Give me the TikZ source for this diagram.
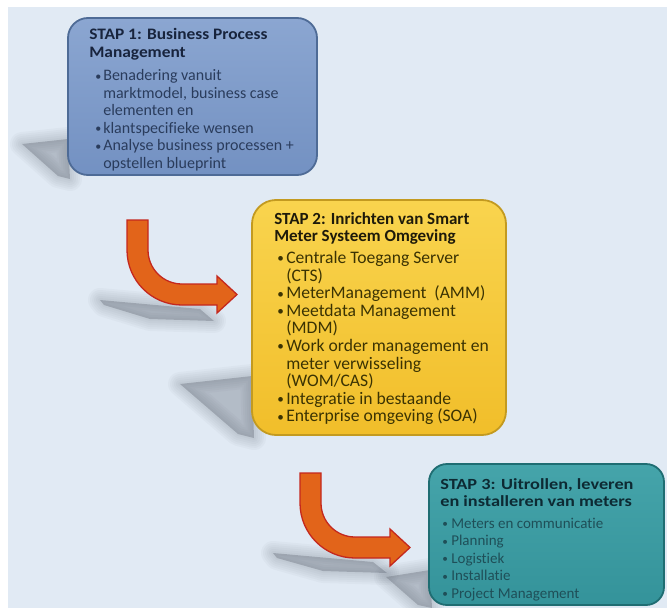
\documentclass[tikz,border=0pt]{standalone}
\usepackage{fontspec}
\setmainfont{Carlito}[Ligatures=NoCommon]
\definecolor{bgc}{HTML}{E1EAF4}
\definecolor{shc}{HTML}{4A5260}
\definecolor{b1top}{HTML}{8BA6D1}
\definecolor{b1bot}{HTML}{7391C2}
\definecolor{b1line}{HTML}{4E6B96}
\definecolor{b2top}{HTML}{F9D44E}
\definecolor{b2bot}{HTML}{F1BE2A}
\definecolor{b2line}{HTML}{C39A20}
\definecolor{b3top}{HTML}{45A4AA}
\definecolor{b3bot}{HTML}{34939A}
\definecolor{b3line}{HTML}{1F6D72}
\definecolor{t1a}{HTML}{18243D}
\definecolor{t1b}{HTML}{2A3C5C}
\definecolor{t2a}{HTML}{1E1A0A}
\definecolor{t2b}{HTML}{3B3303}
\definecolor{t3a}{HTML}{0D2A33}
\definecolor{t3b}{HTML}{1F4F58}
\definecolor{arrfill}{HTML}{E2641A}
\definecolor{arrline}{HTML}{C4281E}
\newcommand{\softshadow}[1]{%
  \foreach \w in {24,20,16,12,8,4} {\path[draw=shc, line width=\w, line join=round, line cap=round, opacity=0.035] #1 -- cycle;}
  \fill[shc, opacity=0.30] #1 -- cycle;}
\newcommand{\bul}[2]{\makebox[#1][l]{\hspace{#2}\raisebox{0.5pt}{\scalebox{0.75}{•}}}}
\newcommand{\ind}[1]{\makebox[#1]{}}
\begin{document}
\begin{tikzpicture}[x=1pt,y=-1pt,
  stepbox/.style={rectangle, rounded corners=20pt, line width=1.8pt, inner sep=0pt},
  boxone/.style={stepbox, draw=b1line, top color=b1top, bottom color=b1bot, minimum width=249pt, minimum height=157pt},
  boxtwo/.style={stepbox, draw=b2line, top color=b2top, bottom color=b2bot, minimum width=254pt, minimum height=235pt, rounded corners=24pt},
  boxthree/.style={stepbox, draw=b3line, top color=b3top, bottom color=b3bot, minimum width=235pt, minimum height=141pt, rounded corners=18pt},
  txt/.style={inner sep=0pt, anchor=north west, align=left},
  bigarrow/.style={fill=arrfill, draw=arrline, line width=1.3pt, line join=miter}
]
\useasboundingbox (0,0) rectangle (667,608);
\fill[white] (0,0) rectangle (667,608);
\fill[bgc] (8,7) rectangle (667,608);

% shadows
\softshadow{(22,144) -- (68,139) -- (70,179) -- (58,176)}
\softshadow{(180,384) -- (252,376) -- (254,438) -- (238,434)}
\softshadow{(386,577) -- (430,570) -- (432,608) -- (418,605)}
\softshadow{(100,300) -- (200,309) -- (214,321) -- (150,319) -- (104,305)}
\softshadow{(273,553) -- (373,562) -- (387,573) -- (323,571) -- (277,558)}

% boxes
\node[boxone] (s1) at (192.5,96.5) {};
\node[boxtwo] (s2) at (379,317.5) {};
\node[boxthree] (s3) at (546.5,534.5) {};

% arrows
\foreach \ox/\oy/\nm in {127/220/a1, 300/473/a2} {
  \begin{scope}[shift={(\ox,\oy)}]
    \coordinate (\nm) at (0,0);
    \draw[bigarrow] (0,0) -- (21,0) -- (21,30) .. controls (21,48.8) and (36.2,64) .. (55,64)
      -- (90,64) -- (90,56) -- (110,74.5) -- (90,93) -- (90,85) -- (55,85)
      .. controls (24.6,85) and (0,60.4) .. (0,30) -- cycle;
  \end{scope}
}

% texts
\node[txt, font=\fontsize{16}{17.5}\selectfont, text=t1b] (t1) at (s1.north west) [xshift=22pt, yshift=-11pt]
{\textcolor{t1a}{\scalebox{1.085}[1]{\textbf{STAP 1: Business Process}}}\\
 \textcolor{t1a}{\scalebox{1.085}[1]{\textbf{Management}}}\\[6pt]
 \bul{14pt}{6pt}Benadering vanuit\\
 \ind{14pt}marktmodel, business case\\
 \ind{14pt}elementen en\\
 \bul{14pt}{6pt}klantspecifieke wensen\\
 \bul{14pt}{6pt}Analyse business processen +\\
 \ind{14pt}opstellen blueprint};

\node[txt, font=\fontsize{17.6}{17.6}\selectfont, text=t2b] (t2) at (s2.north west) [xshift=23pt, yshift=-13pt]
{\textcolor{t2a}{\fontsize{17}{17.6}\selectfont\textbf{STAP 2: Inrichten van Smart}}\\
 \textcolor{t2a}{\fontsize{17}{17.6}\selectfont\textbf{Meter Systeem Omgeving}}\\[4pt]
 \bul{12pt}{3pt}Centrale Toegang Server\\
 \ind{12pt}(CTS)\\
 \bul{12pt}{3pt}MeterManagement\ \ (AMM)\\
 \bul{12pt}{3pt}Meetdata Management\\
 \ind{12pt}(MDM)\\
 \bul{12pt}{3pt}Work order management en\\
 \ind{12pt}meter verwisseling\\
 \ind{12pt}(WOM/CAS)\\
 \bul{12pt}{3pt}Integratie in bestaande\\
 \bul{12pt}{3pt}Enterprise omgeving (SOA)};

\node[txt, font=\fontsize{15}{17.5}\selectfont, text=t3b] (t3) at (s3.north west) [xshift=12pt, yshift=-15pt]
{\textcolor{t3a}{\scalebox{1.18}[1]{\fontsize{15.5}{17.5}\selectfont\textbf{STAP 3: Uitrollen, leveren}}}\\
 \textcolor{t3a}{\scalebox{1.18}[1]{\fontsize{15.5}{17.5}\selectfont\textbf{en installeren van meters}}}\\[4pt]
 \bul{11pt}{2pt}Meters en communicatie\\
 \bul{11pt}{2pt}Planning\\
 \bul{11pt}{2pt}Logistiek\\
 \bul{11pt}{2pt}Installatie\\
 \bul{11pt}{2pt}Project Management};
\end{tikzpicture}
\end{document}
